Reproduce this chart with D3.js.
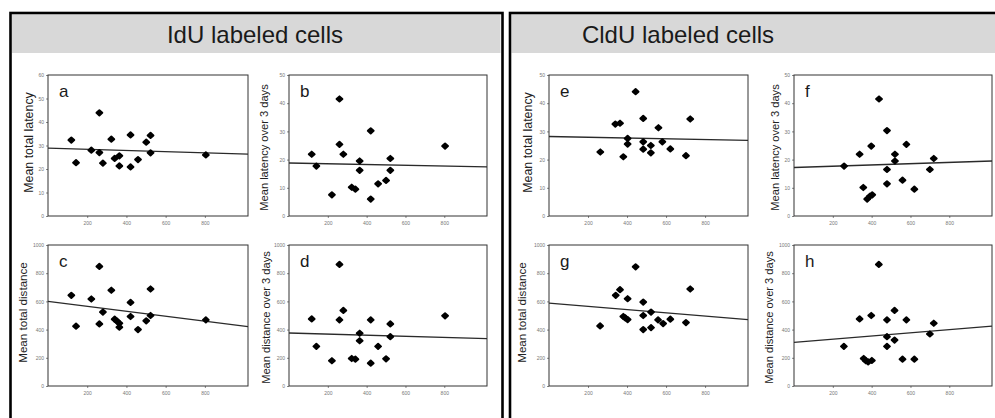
<!DOCTYPE html>
<html>
<head>
<meta charset="utf-8">
<script src="https://cdn.jsdelivr.net/npm/d3@7"></script>
<style>
  body { margin: 0; background: #fff; }
  svg { display: block; font-family: "Liberation Sans", Arial, sans-serif; }
</style>
</head>
<body>
<div id="container"></div>
<script>
const width = 995, height = 418;

/** -------------- DATA -------------- */

const groupTitles = ["IdU labeled cells", "CldU labeled cells"];
const panelLetters = ["a", "b", "c", "d", "e", "f", "g", "h"];
const yTitles = [
  "Mean total latency", "Mean latency over 3 days",
  "Mean total distance", "Mean distance over 3 days",
  "Mean total latency", "Mean latency over 3 days",
  "Mean total distance", "Mean distance over 3 days"
];
const xTicks = [200, 400, 600, 800];
const yMaxes = [60, 50, 1000, 1000, 50, 50, 1000, 1000];
const ySteps = [10, 10, 200, 200, 10, 10, 200, 200];

// IdU
const aX = [119, 143, 262, 221, 262, 280, 323, 340, 364, 364, 421, 421, 459, 501, 523, 523, 805];
const aY = [32.3, 22.7, 43.9, 28.0, 27.0, 22.5, 32.7, 24.5, 25.6, 21.3, 34.5, 20.9, 24.0, 31.4, 34.3, 26.9, 26.0];
const bX = [117, 141, 221, 260, 260, 280, 323, 342, 364, 364, 421, 421, 459, 500, 522, 522, 804];
const bY = [21.9, 17.7, 7.5, 41.5, 25.4, 21.9, 10.2, 9.5, 19.5, 16.2, 30.2, 6.0, 11.4, 12.6, 20.4, 16.2, 24.8];
const cX = [119, 143, 221, 262, 262, 280, 323, 340, 352, 364, 364, 421, 421, 459, 501, 523, 523, 805];
const cY = [643, 424, 617, 848, 440, 524, 679, 474, 460, 445, 417, 593, 493, 400, 462, 688, 500, 469];
const dX = [117, 141, 221, 260, 260, 280, 323, 342, 364, 364, 421, 421, 459, 500, 522, 522, 804];
const dY = [476, 281, 179, 862, 469, 536, 195, 190, 374, 321, 469, 162, 281, 193, 440, 350, 498];

// CldU
const eX = [263, 340, 364, 381, 403, 403, 444, 483, 483, 483, 522, 522, 561, 581, 622, 702, 724];
const eY = [22.7, 32.6, 32.9, 21.0, 27.5, 25.5, 44.1, 34.6, 26.3, 23.7, 25.0, 22.4, 31.3, 26.3, 23.8, 21.4, 34.4];
const fX = [258, 338, 357, 377, 391, 403, 398, 438, 479, 479, 479, 520, 520, 559, 579, 620, 700, 720];
const fY = [17.7, 21.9, 10.1, 6.0, 7.0, 7.5, 24.8, 41.5, 30.3, 16.5, 11.4, 21.9, 19.5, 12.7, 25.4, 9.5, 16.5, 20.4];
const gX = [262, 342, 364, 381, 391, 403, 403, 444, 483, 483, 483, 523, 523, 559, 585, 622, 702, 724];
const gY = [426, 643, 683, 493, 483, 471, 619, 845, 595, 500, 400, 524, 414, 469, 443, 474, 450, 688];
const hX = [257, 338, 359, 370, 382, 401, 398, 437, 479, 479, 479, 518, 518, 559, 579, 620, 700, 720];
const hY = [281, 476, 195, 179, 171, 181, 500, 862, 469, 350, 281, 536, 326, 190, 469, 190, 369, 445];

// fitted line: y value at x = 0 and at x = 1020
const fits = [
  [28.9, 26.3], [18.8, 17.4], [600, 421], [376, 336],
  [28.2, 26.8], [17.2, 19.5], [588, 471], [310, 424]
];

const xsAll = [aX, bX, cX, dX, eX, fX, gX, hX];
const ysAll = [aY, bY, cY, dY, eY, fY, gY, hY];
const xMax = 1020;

/** -------------- LAYOUT -------------- */

const frameLeft = [48, 289, 48, 289, 549, 794, 549, 794];
const frameRight = [248, 487, 248, 487, 748, 992, 748, 992];
const frameTop = [75, 75, 245, 245, 75, 75, 245, 245];
const frameH = 141;
const titleX = [30, 265, 24, 267, 529, 776, 523, 770];
const titleSize = [12.4, 11.1, 11.6, 11.1, 12.4, 11.1, 11.6, 11.1];

// rounded diamond marker
const diamond = "M0,-2.6L2.9,0L0,2.6L-2.9,0Z";

/** -------------- DRAW -------------- */

const svg = d3.select("#container")
  .append("svg")
  .attr("width", width)
  .attr("height", height);

// group boxes with grey banners
const boxes = [
  { x: 10.5, w: 492, cx: 255 },
  { x: 510, w: 500, cx: 678 }
];
boxes.forEach((b, i) => {
  svg.append("rect")
    .attr("x", b.x + 1.5).attr("y", 14.5)
    .attr("width", i === 0 ? b.w - 3.5 : b.w).attr("height", 38.5)
    .attr("fill", "#d8d8d8");
  svg.append("rect")
    .attr("x", b.x).attr("y", 13)
    .attr("width", b.w).attr("height", 420)
    .attr("fill", "none")
    .attr("stroke", "#000")
    .attr("stroke-width", 2.6);
  svg.append("text")
    .attr("x", b.cx).attr("y", 43)
    .attr("text-anchor", "middle")
    .attr("font-size", 24)
    .attr("fill", "#1a1a1a")
    .text(groupTitles[i]);
});

panelLetters.forEach((letter, i) => {
  const x = d3.scaleLinear([0, xMax], [frameLeft[i], frameRight[i]]);
  const y = d3.scaleLinear([0, yMaxes[i]], [frameTop[i] + frameH, frameTop[i]]);
  const g = svg.append("g");

  g.append("g")
    .attr("transform", `translate(0,${frameTop[i] + frameH})`)
    .call(d3.axisBottom(x).tickValues(xTicks).tickSize(2).tickPadding(3).tickSizeOuter(0))
    .call(a => a.select(".domain").remove())
    .call(a => a.selectAll("text").attr("font-size", 5).attr("fill", "#777"))
    .call(a => a.selectAll("line").attr("stroke", "#888"));

  g.append("g")
    .attr("transform", `translate(${frameLeft[i]},0)`)
    .call(d3.axisLeft(y)
      .tickValues(d3.range(0, yMaxes[i] + 1, ySteps[i]))
      .tickFormat(d3.format("d"))
      .tickSize(2).tickPadding(2).tickSizeOuter(0))
    .call(a => a.select(".domain").remove())
    .call(a => a.selectAll("text").attr("font-size", 5).attr("fill", "#777"))
    .call(a => a.selectAll("line").attr("stroke", "#888"));

  g.append("rect")
    .attr("x", frameLeft[i]).attr("y", frameTop[i])
    .attr("width", frameRight[i] - frameLeft[i]).attr("height", frameH)
    .attr("fill", "none")
    .attr("stroke", "#333")
    .attr("stroke-width", 1);

  g.append("line")
    .attr("x1", x(0)).attr("y1", y(fits[i][0]))
    .attr("x2", x(xMax)).attr("y2", y(fits[i][1]))
    .attr("stroke", "#2a2a2a")
    .attr("stroke-width", 1.3);

  g.selectAll("path.pt")
    .data(d3.zip(xsAll[i], ysAll[i]))
    .join("path")
      .attr("class", "pt")
      .attr("transform", d => `translate(${x(d[0])},${y(d[1])})`)
      .attr("d", diamond)
      .attr("fill", "#000")
      .attr("stroke", "#000")
      .attr("stroke-width", 2)
      .attr("stroke-linejoin", "round");

  g.append("text")
    .attr("x", frameLeft[i] + 11)
    .attr("y", frameTop[i] + 22)
    .attr("font-size", 17)
    .attr("fill", "#1a1a1a")
    .text(letter);

  const cy = frameTop[i] + frameH / 2 + (i % 2 === 0 ? -3 : 2);
  g.append("text")
    .attr("transform", `translate(${titleX[i]},${cy}) rotate(-90)`)
    .attr("text-anchor", "middle")
    .attr("dominant-baseline", "middle")
    .attr("font-size", titleSize[i])
    .attr("fill", "#222")
    .text(yTitles[i]);
});
</script>
</body>
</html>
